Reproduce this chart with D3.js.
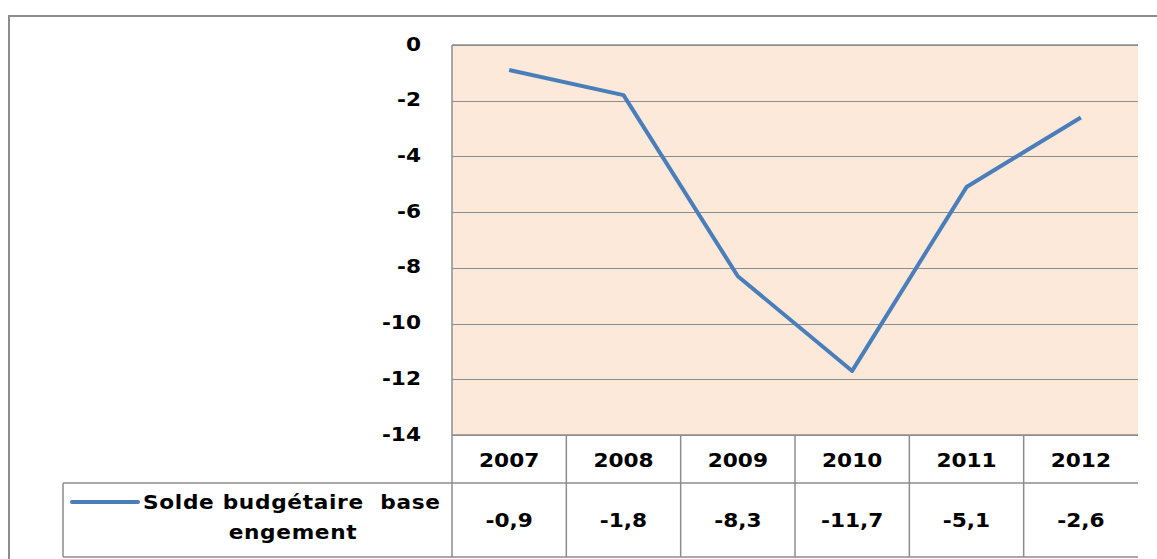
<!DOCTYPE html>
<html>
<head>
<meta charset="utf-8">
<script src="https://cdn.jsdelivr.net/npm/d3@7"></script>
<style>
  body { margin: 0; background: #fff; }
  svg { display: block; }
  text { font-family: "DejaVu Sans", Verdana, sans-serif; font-weight: bold; fill: #000; white-space: pre; }
</style>
</head>
<body>
<div id="chart"></div>
<script>
// données
const years = ['2007', '2008', '2009', '2010', '2011', '2012'];
const solde = [-0.9, -1.8, -8.3, -11.7, -5.1, -2.6];
const yTicks = [0, -2, -4, -6, -8, -10, -12, -14];
const seriesName = ['Solde budgétaire  base', 'engement'];

const W = 1157, H = 559;
const plot = { left: 452, right: 1138, top: 45, bottom: 435 };
const headerBottom = 483, tableBottom = 557, legendLeft = 63;
const grid = '#8c8c8c';
const sx = 1.14; // police un peu élargie comme dans l'original

const fr = d3.formatLocale({ decimal: ',', thousands: ' ', grouping: [3], currency: ['', ' €'], minus: '-' });
const fmt = fr.format('.1f');

const svg = d3.select('#chart').append('svg')
  .attr('width', W).attr('height', H);

// texte placé en (x, y) puis étiré horizontalement
const label = (g, x, y) => g
  .attr('transform', `translate(${x},${y}) scale(${sx},1)`)
  .attr('font-size', 19)
  .attr('dy', '0.35em');

// cadre extérieur
svg.append('rect')
  .attr('x', 9).attr('y', 16)
  .attr('width', W + 20).attr('height', H + 20)
  .attr('fill', 'none').attr('stroke', '#8c8c8c').attr('stroke-width', 2);

const x = d3.scaleBand().domain(years).range([plot.left, plot.right]);
const y = d3.scaleLinear().domain([0, -14]).range([plot.top, plot.bottom]);

// fond de la zone de tracé
svg.append('rect')
  .attr('x', plot.left).attr('y', plot.top)
  .attr('width', plot.right - plot.left).attr('height', plot.bottom - plot.top)
  .attr('fill', '#fde9d9');

// grille horizontale
svg.append('g')
  .selectAll('line')
  .data(yTicks)
  .join('line')
  .attr('x1', plot.left).attr('x2', plot.right)
  .attr('y1', d => Math.round(y(d)) + 0.5).attr('y2', d => Math.round(y(d)) + 0.5)
  .attr('stroke', grid).attr('stroke-width', 1);

// axe Y (étiquettes seulement)
const yAxis = svg.append('g')
  .attr('transform', `translate(${plot.left},0)`)
  .call(d3.axisLeft(y).tickValues(yTicks).tickSize(0).tickFormat(d => String(d)));
yAxis.select('.domain').remove();
yAxis.selectAll('text')
  .attr('x', 0).attr('dy', '0.32em')
  .attr('font-size', 19).attr('font-family', null)
  .attr('transform', `translate(-31,-1) scale(${sx},1)`);

// courbe
const line = d3.line()
  .x((d, i) => x(years[i]) + x.bandwidth() / 2)
  .y(d => y(d));

svg.append('path')
  .datum(solde)
  .attr('d', line)
  .attr('fill', 'none')
  .attr('stroke', '#4a7ebb')
  .attr('stroke-width', 4)
  .attr('stroke-linejoin', 'round');

// tableau de données
const tg = svg.append('g').attr('stroke', grid).attr('stroke-width', 1.5).attr('fill', 'none');
tg.append('line').attr('x1', plot.left).attr('x2', plot.right).attr('y1', plot.top).attr('y2', plot.top);
tg.append('line').attr('x1', plot.left).attr('x2', plot.left).attr('y1', plot.top).attr('y2', tableBottom);
tg.append('line').attr('x1', plot.left).attr('x2', plot.right).attr('y1', plot.bottom).attr('y2', plot.bottom);
tg.append('line').attr('x1', legendLeft).attr('x2', plot.right).attr('y1', headerBottom).attr('y2', headerBottom);
tg.append('line').attr('x1', legendLeft).attr('x2', plot.right).attr('y1', tableBottom).attr('y2', tableBottom);
tg.append('line').attr('x1', legendLeft).attr('x2', legendLeft).attr('y1', headerBottom).attr('y2', tableBottom);
tg.selectAll('line.col')
  .data(years.slice(1))
  .join('line')
  .attr('class', 'col')
  .attr('x1', d => x(d)).attr('x2', d => x(d))
  .attr('y1', plot.bottom).attr('y2', tableBottom);

// années
svg.append('g')
  .selectAll('text')
  .data(years)
  .join('text')
  .call(s => s.each(function (d) {
    label(d3.select(this), x(d) + x.bandwidth() / 2, (plot.bottom + headerBottom) / 2 + 1);
  }))
  .attr('text-anchor', 'middle')
  .text(d => d);

// valeurs
svg.append('g')
  .selectAll('text')
  .data(solde)
  .join('text')
  .call(s => s.each(function (d, i) {
    label(d3.select(this), x(years[i]) + x.bandwidth() / 2, (headerBottom + tableBottom) / 2);
  }))
  .attr('text-anchor', 'middle')
  .text(d => fmt(d));

// légende
svg.append('line')
  .attr('x1', 72).attr('x2', 138)
  .attr('y1', 502).attr('y2', 502)
  .attr('stroke', '#4a7ebb').attr('stroke-width', 4).attr('stroke-linecap', 'round');

svg.append('text')
  .call(label, 143, 502)
  .attr('letter-spacing', 0.6)
  .text(seriesName[0]);

svg.append('text')
  .call(label, 293, 532)
  .attr('text-anchor', 'middle')
  .attr('letter-spacing', 0.6)
  .text(seriesName[1]);
</script>
</body>
</html>
